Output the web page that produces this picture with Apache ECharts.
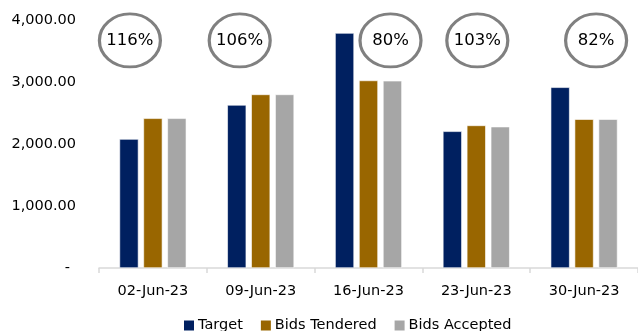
<!DOCTYPE html>
<html>
<head>
<meta charset="utf-8">
<script src="https://cdn.jsdelivr.net/npm/echarts@6/dist/echarts.min.js"></script>
<style>html,body{margin:0;padding:0;background:#fff}#c{width:638px;height:331px}</style>
</head>
<body>
<div id="c"></div>
<script>
const categories = ['02-Jun-23', '09-Jun-23', '16-Jun-23', '23-Jun-23', '30-Jun-23'];
const target = [2080, 2630, 3790, 2205, 2915];
const bidsTendered = [2415, 2800, 3025, 2300, 2400];
const bidsAccepted = [2415, 2800, 3020, 2280, 2400];
const coverRatio = ['116%', '106%', '80%', '103%', '82%'];
const ratioLevel = 3670;
const yTicks = [0, 1000, 2000, 3000, 4000];

const ellipseOffsets = [-23, -21, 22, 1, 12];
const FONT = 'DejaVu Sans';

const chart = echarts.init(document.getElementById('c'));
function fmt(v) {
  return v.toLocaleString('en-US', {minimumFractionDigits: 2, maximumFractionDigits: 2});
}
const barStyle = (c) => ({color: c, borderColor: '#ffffff', borderWidth: 0.6});
chart.setOption({
  animation: false,
  textStyle: {fontFamily: FONT},
  grid: {left: 99, right: -2, top: 20, bottom: 63, containLabel: false},
  legend: {
    left: 177, top: 313,
    itemWidth: 12, itemHeight: 12, itemGap: 16,
    icon: 'rect',
    textStyle: {fontFamily: FONT, fontSize: 14.5, color: '#000', padding: [0, 0, 0, -2]},
    data: ['Target', 'Bids Tendered', 'Bids Accepted']
  },
  xAxis: {
    type: 'category',
    data: categories,
    boundaryGap: true,
    axisLine: {lineStyle: {color: '#d9d9d9', width: 1.5}},
    axisTick: {show: true, length: 5, lineStyle: {color: '#d9d9d9', width: 1.5}},
    axisLabel: {fontFamily: FONT, fontSize: 14.5, color: '#000', margin: 16}
  },
  yAxis: {
    type: 'value',
    min: yTicks[0], max: yTicks[yTicks.length - 1], interval: 1000,
    axisLine: {show: false}, axisTick: {show: false}, splitLine: {show: false},
    axisLabel: {
      fontFamily: FONT, fontSize: 14.5, color: '#000', margin: 23,
      formatter: (v) => v === 0 ? '{z|-}' : fmt(v),
      rich: {z: {fontFamily: FONT, fontSize: 14.5, color: '#000', padding: [0, 6, 0, 0]}}
    }
  },
  series: [
    {name: 'Target', type: 'bar', data: target, barWidth: 19, barGap: '26%', barCategoryGap: '38%', itemStyle: barStyle('#002060')},
    {name: 'Bids Tendered', type: 'bar', data: bidsTendered, barWidth: 19, itemStyle: barStyle('#996600')},
    {name: 'Bids Accepted', type: 'bar', data: bidsAccepted, barWidth: 19, itemStyle: barStyle('#a6a6a6')},
    {
      name: 'ratio', type: 'scatter', z: 5,
      symbol: 'circle', symbolSize: [61, 53],
      itemStyle: {color: '#ffffff', borderColor: '#808080', borderWidth: 3, opacity: 1},
      label: {show: true, position: 'inside', fontFamily: FONT, fontSize: 16.5, color: '#000', formatter: (p) => coverRatio[p.dataIndex]},
      data: categories.map((c, i) => ({value: [c, ratioLevel], symbolOffset: [ellipseOffsets[i], 0]}))
    }
  ]
});
</script>
</body>
</html>
